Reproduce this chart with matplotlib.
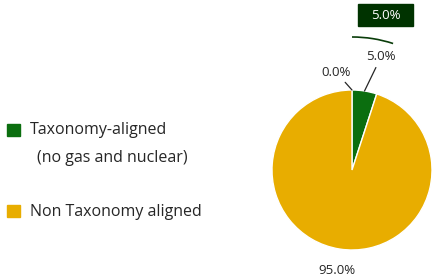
import numpy as np
import matplotlib.pyplot as plt
from matplotlib.patches import Arc, Rectangle

# data
segments = ["Gas and nuclear", "Taxonomy-aligned\n(no gas and nuclear)", "Non Taxonomy aligned"]
shares = [0.0, 5.0, 95.0]
colors = ["#6a9a3a", "#0b6e0f", "#e8ad00"]
legend_names = ["Taxonomy-aligned", "Non Taxonomy aligned"]
box_label = "5.0%"

plt.rcParams['font.family'] = ['Open Sans', 'DejaVu Sans']

fig = plt.figure(figsize=(4.32, 2.8), dpi=100)
ax = fig.add_axes([0, 0, 1, 1])

cx, cy, r = 352, 110, 80
wedges, _ = ax.pie(shares, colors=colors, startangle=90, counterclock=False,
                   center=(cx, cy), radius=r, frame=True,
                   wedgeprops=dict(edgecolor='white', linewidth=1.0))
ax.set_xlim(0, 432)
ax.set_ylim(0, 280)
ax.set_aspect('equal')
ax.axis('off')

# slice labels with leader lines
label_pos = [(336, 208), (381, 223), (337, 10)]
for w, val, (lx, ly) in zip(wedges, shares, label_pos):
    mid = np.deg2rad((w.theta1 + w.theta2) / 2)
    px, py = cx + r * np.cos(mid), cy + r * np.sin(mid)
    txt = f"{val:.1f}%"
    if val >= 50:
        ax.text(lx, ly, txt, ha='center', va='center', fontsize=9.5, color='#262626')
        continue
    ax.annotate(txt, xy=(px, py), xytext=(lx, ly), ha='center', va='center',
                fontsize=9.5, color='#262626',
                arrowprops=dict(arrowstyle='-', color='#262626', lw=0.9,
                                shrinkA=1, shrinkB=0))

# outer arc and callout box for the aligned share
t0 = 90 - shares[1] * 3.6
ax.add_patch(Arc((cx, cy), 266, 266, theta1=t0, theta2=90, color='#0a3d0a', lw=1.2))
ax.add_patch(Rectangle((358, 254), 55, 22, color='#003300'))
ax.text(385.5, 264.5, box_label, ha='center', va='center', fontsize=9.5, color='white')

# legend
ax.add_patch(Rectangle((7, 144), 13, 12, color=colors[1]))
ax.text(30, 150, legend_names[0], ha='left', va='center', fontsize=11.5, color='#262626')
ax.text(37, 122, "(no gas and nuclear)", ha='left', va='center', fontsize=11.5, color='#262626')
ax.add_patch(Rectangle((7, 63), 13, 12, color=colors[2]))
ax.text(30, 68, legend_names[1], ha='left', va='center', fontsize=11.5, color='#262626')

fig.savefig("out.png", dpi=100)
